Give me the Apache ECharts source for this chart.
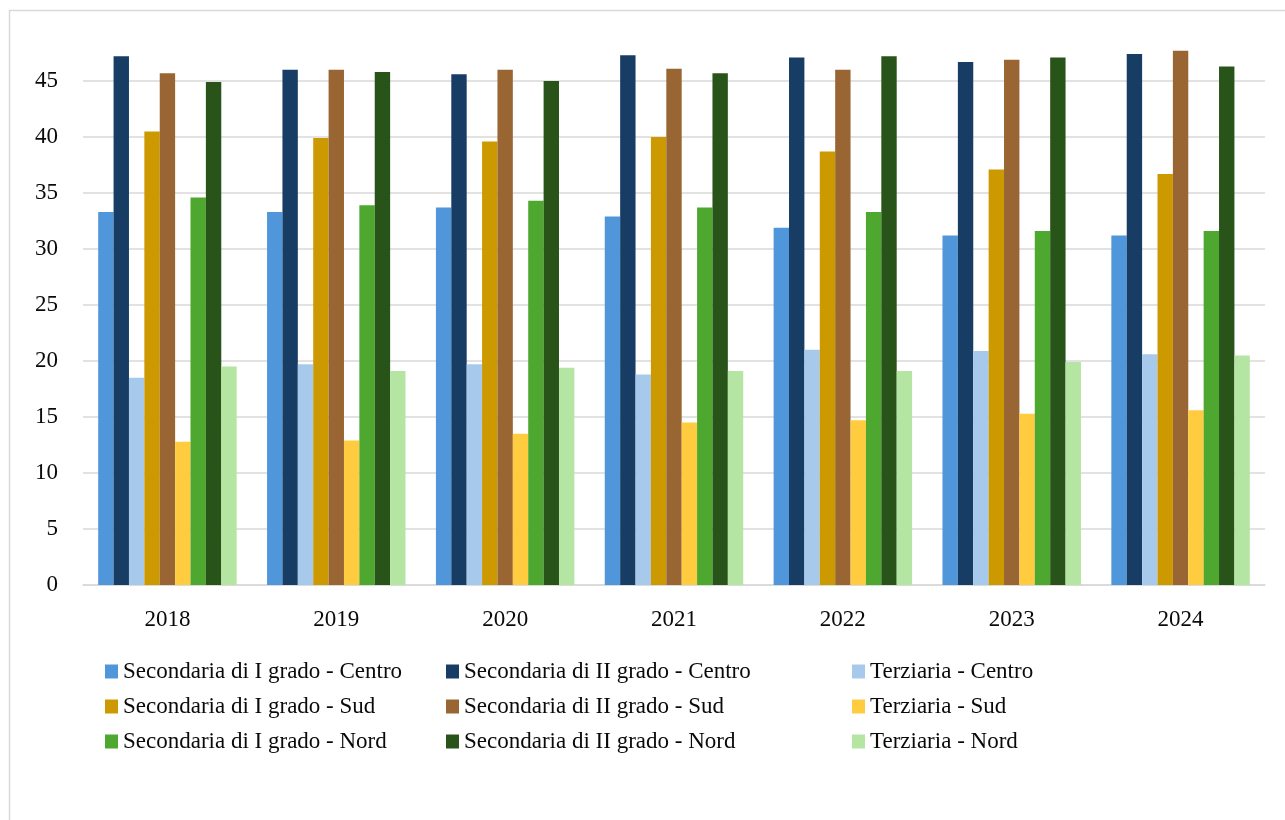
<!DOCTYPE html>
<html>
<head>
<meta charset="utf-8">
<script src="https://cdn.jsdelivr.net/npm/echarts@6/dist/echarts.min.js"></script>
<style>
  html, body { margin: 0; padding: 0; background: #fff; }
  #chart { width: 1285px; height: 820px; }
</style>
</head>
<body>
<div id="chart"></div>
<script>
const years = ['2018', '2019', '2020', '2021', '2022', '2023', '2024']

// valori
const sec1Centro = [33.3, 33.3, 33.7, 32.9, 31.9, 31.2, 31.2]
const sec2Centro = [47.2, 46.0, 45.6, 47.3, 47.1, 46.7, 47.4]
const terzCentro = [18.5, 19.7, 19.7, 18.8, 21.0, 20.9, 20.6]
const sec1Sud = [40.5, 39.9, 39.6, 40.0, 38.7, 37.1, 36.7]
const sec2Sud = [45.7, 46.0, 46.0, 46.1, 46.0, 46.9, 47.7]
const terzSud = [12.8, 12.9, 13.5, 14.5, 14.7, 15.3, 15.6]
const sec1Nord = [34.6, 33.9, 34.3, 33.7, 33.3, 31.6, 31.6]
const sec2Nord = [44.9, 45.8, 45.0, 45.7, 47.2, 47.1, 46.3]
const terzNord = [19.5, 19.1, 19.4, 19.1, 19.1, 19.9, 20.5]

const yTicks = { min: 0, max: 45, step: 5 }

const font = 'Liberation Serif'
const txt = '#0a0a0a'

const seriesDefs = [
  { name: 'Secondaria di I grado - Centro', data: sec1Centro, color: '#5096DA' },
  { name: 'Secondaria di II grado - Centro', data: sec2Centro, color: '#183D64' },
  { name: 'Terziaria - Centro', data: terzCentro, color: '#A7CAEC' },
  { name: 'Secondaria di I grado - Sud', data: sec1Sud, color: '#CC9A00' },
  { name: 'Secondaria di II grado - Sud', data: sec2Sud, color: '#996633' },
  { name: 'Terziaria - Sud', data: terzSud, color: '#FFCC40' },
  { name: 'Secondaria di I grado - Nord', data: sec1Nord, color: '#4EA72E' },
  { name: 'Secondaria di II grado - Nord', data: sec2Nord, color: '#285419' },
  { name: 'Terziaria - Nord', data: terzNord, color: '#B5E5A2' }
]

// legenda su tre colonne
const legendCols = [
  { left: 100, names: [0, 3, 6] },
  { left: 441, names: [1, 4, 7] },
  { left: 847, names: [2, 5, 8] }
]

const chart = echarts.init(document.getElementById('chart'))

const option = {
  backgroundColor: '#fff',
  animation: false,
  graphic: [{
    type: 'rect',
    shape: { x: 9.5, y: 10.5, width: 1400, height: 1000 },
    style: { fill: 'none', stroke: '#D9D9D9', lineWidth: 1.5 },
    silent: true,
    z: -10
  }],
  grid: { left: 83, right: 20, top: 81, bottom: 235 },
  legend: legendCols.map(c => ({
    orient: 'vertical',
    left: c.left,
    top: 655,
    itemWidth: 13,
    itemHeight: 14,
    itemGap: 12,
    icon: 'rect',
    selectedMode: false,
    textStyle: { fontFamily: font, fontSize: 23, lineHeight: 23, color: txt },
    data: c.names.map(i => seriesDefs[i].name)
  })),
  xAxis: {
    type: 'category',
    data: years,
    axisTick: { show: false },
    axisLine: { lineStyle: { color: '#D9D9D9', width: 1.5 } },
    axisLabel: { fontFamily: font, fontSize: 23, color: txt, margin: 23 }
  },
  yAxis: {
    type: 'value',
    min: yTicks.min,
    max: yTicks.max,
    interval: yTicks.step,
    axisLine: { show: false },
    axisTick: { show: false },
    axisLabel: { fontFamily: font, fontSize: 23, color: txt, margin: 25 },
    splitLine: { lineStyle: { color: '#D9D9D9', width: 1.5 } }
  },
  series: seriesDefs.map(s => ({
    name: s.name,
    type: 'bar',
    data: s.data,
    clip: false,
    barGap: '0%',
    barCategoryGap: '18%',
    itemStyle: { color: s.color }
  }))
}

chart.setOption(option)
</script>
</body>
</html>
